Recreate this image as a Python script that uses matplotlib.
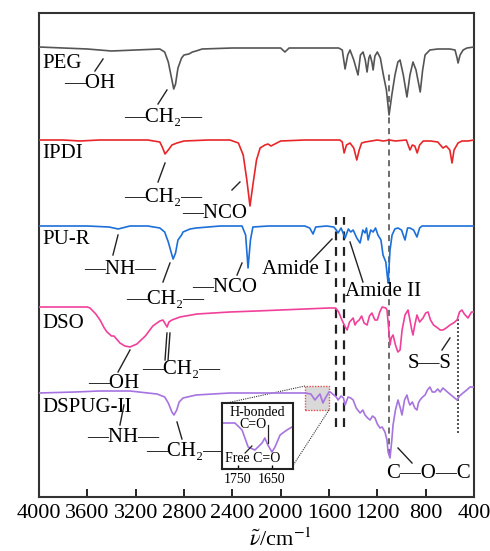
import numpy as np
import matplotlib
matplotlib.use("Agg")
import matplotlib.pyplot as plt
from matplotlib.patches import Rectangle

plt.rcParams['font.family'] = ['Liberation Serif', 'DejaVu Serif']
plt.rcParams['mathtext.fontset'] = 'stix'

# FTIR spectra: wavenumber (cm-1) and transmittance (a.u., baseline ~100)
peg_wn = [4000, 3800, 3600, 3400, 3200, 3000, 2960, 2930, 2900, 2885, 2870, 2850, 2820, 2800, 2760,
          2730, 2700, 2650, 2400, 2200, 2000, 1965, 1930, 1700, 1520, 1490, 1467, 1445, 1426, 1395,
          1360, 1340, 1318, 1300, 1285, 1270, 1260, 1245, 1235, 1220, 1200, 1175, 1150, 1125, 1103,
          1080, 1054, 1030, 1012, 985, 955, 930, 905, 880, 845, 825, 805, 765, 700, 600, 557, 540,
          532, 515, 490, 458, 400]
peg_t = [101, 100, 99, 97, 98, 99, 96, 86, 68, 59, 64, 80, 90, 93, 94,
         96, 97, 99, 100, 100, 100, 96, 100, 100, 100, 98, 79, 93, 98, 88,
         73, 93, 96, 88, 76, 90, 93, 86, 78, 92, 96, 90, 73, 58, 33,
         53, 73, 86, 88, 73, 51, 73, 86, 78, 56, 78, 93, 98, 99, 99, 98, 90,
         85, 93, 98, 100, 101]

ipdi_wn = [4000, 3800, 3660, 3500, 3100, 3000, 2980, 2957, 2930, 2900, 2858, 2800, 2600, 2420, 2350,
           2310, 2280, 2254, 2230, 2200, 2170, 2130, 2105, 2080, 2000, 1800, 1510, 1490, 1475, 1455,
           1426, 1395, 1370, 1350, 1330, 1300, 1250, 1200, 1150, 1100, 1050, 960, 945, 930, 910,
           890, 870, 850, 820, 760, 700, 657, 630, 600, 582, 565, 532, 500, 450, 400]
ipdi_t = [100, 100, 99, 100, 100, 98, 93, 86, 90, 95, 97, 99, 100, 100, 97,
          85, 60, 34, 55, 80, 92, 95, 96, 94, 99, 100, 100, 98, 87, 95,
          97, 92, 80, 90, 97, 98, 99, 100, 99, 100, 99, 100, 95, 90, 95,
          94, 87, 95, 99, 99, 98, 92, 94, 90, 77, 90, 97, 99, 99, 100]

pur_wn = [4000, 3600, 3420, 3345, 3280, 3247, 3100, 3000, 2960, 2930, 2900, 2890, 2870, 2850, 2820,
          2808, 2750, 2700, 2500, 2320, 2290, 2270, 2250, 2230, 2100, 1800, 1760, 1732, 1710, 1620,
          1560, 1540, 1525, 1500, 1467, 1440, 1420, 1400, 1370, 1343, 1320, 1302, 1290, 1276, 1255,
          1235, 1215, 1195, 1170, 1153, 1130, 1111, 1095, 1078, 1055, 1029, 1000, 971, 950, 930,
          900, 872, 850, 830, 600, 400]
pur_t = [100, 100, 99, 97, 99, 100, 100, 98, 94, 84, 71, 67, 73, 86, 91,
         94, 97, 98, 100, 100, 91, 58, 86, 99, 100, 100, 98, 92, 99, 100,
         99, 96, 93, 98, 88, 97, 94, 96, 88, 83, 96, 93, 98, 86, 96,
         94, 98, 91, 86, 71, 64, 43, 76, 91, 97, 98, 96, 86, 98, 98,
         96, 89, 98, 100, 100, 100]

dso_wn = [4000, 3800, 3600, 3578, 3530, 3495, 3460, 3437, 3400, 3380, 3330, 3290, 3247, 3190, 3120,
          3058, 3000, 2974, 2950, 2940, 2925, 2900, 2833, 2693, 2420, 2200, 2000, 1800, 1600, 1545,
          1520, 1500, 1470, 1450, 1430, 1400, 1385, 1370, 1350, 1330, 1310, 1285, 1265, 1245, 1220,
          1200, 1180, 1160, 1130, 1120, 1105, 1095, 1085, 1070, 1050, 1030, 1012, 995, 971, 946,
          930, 915, 905, 890, 872, 850, 822, 800, 780, 760, 735, 700, 680, 657, 630,
          599, 570, 540, 520, 500, 480, 450, 420, 400]
dso_t = [100, 100, 100, 99, 93, 87, 79, 75, 71, 71, 64, 61, 60, 63, 71,
         81, 86, 87, 82, 80, 85, 87, 90, 93, 95, 96, 97, 98, 99, 99,
         95, 89, 81, 77, 85, 89, 82, 85, 87, 91, 84, 82, 91, 94, 87,
         87, 95, 100, 99, 97, 77, 62, 69, 72, 62, 55, 57, 77, 92, 97,
         87, 77, 72, 82, 92, 85, 89, 94, 95, 87, 82, 79, 77, 77, 79,
         82, 84, 87, 95, 97, 93, 89, 95, 95]

dspug_wn = [4000, 3700, 3500, 3247, 3100, 3023, 2960, 2930, 2900, 2883, 2860, 2840, 2808, 2700, 2420,
            2100, 1800, 1750, 1716, 1690, 1675, 1650, 1630, 1600, 1590, 1560, 1540, 1525, 1500, 1480,
            1467, 1442, 1420, 1400, 1375, 1343, 1320, 1302, 1280, 1260, 1240, 1219, 1200, 1178, 1160,
            1137, 1120, 1111, 1095, 1080, 1070, 1050, 1029, 1010, 996, 975, 955, 940, 930, 910,
            890, 872, 860, 847, 825, 805, 785, 765, 745, 723, 700, 680, 657, 620, 580,
            540, 520, 491, 460, 433, 400]
dspug_t = [100, 101, 102, 102, 100, 99, 96, 90, 81, 78, 83, 91, 95, 98, 100,
           100, 100, 99, 93, 97, 99, 90, 95, 101, 101, 98, 96, 93, 97, 95,
           88, 96, 95, 93, 85, 80, 83, 78, 75, 73, 77, 75, 69, 65, 66,
           61, 53, 41, 35, 53, 68, 83, 93, 85, 78, 93, 98, 91, 88, 91,
           85, 83, 90, 93, 96, 98, 103, 106, 101, 101, 104, 101, 105, 101, 97,
           93, 97, 100, 103, 106, 106]

# zoomed C=O region of DSPUG-II
inset_wn = [1797, 1759, 1738, 1720, 1700, 1679, 1671, 1662, 1650, 1641, 1626, 1606, 1591]
inset_t = [100, 100, 93, 76, 73, 80, 85, 78, 71, 76, 88, 93, 96]

names = ['PEG', 'IPDI', 'PU-R', 'DSO', 'DSPUG-II']
spectra = [(peg_wn, peg_t), (ipdi_wn, ipdi_t), (pur_wn, pur_t), (dso_wn, dso_t), (dspug_wn, dspug_t)]
offsets = [349, 257, 171, 90, 4]
colors = ['#555555', '#e8262a', '#1c6fd8', '#f0409a', '#a673e0']
label_y = [434, 343, 257, 173, 90]

fig = plt.figure(figsize=(4.9, 5.51), dpi=100)
ax = fig.add_axes([39 / 490, 54 / 551, 435 / 490, 484 / 551])

for (wn, t), off, c in zip(spectra, offsets, colors):
    ax.plot(wn, np.array(t) + off, color=c, lw=1.2, zorder=3)

for name, ly in zip(names, label_y):
    ax.text(3975, ly, name, fontsize=15, ha='left', va='center')

ax.set_xlim(4000, 400)
ax.set_ylim(0, 484)
ax.set_xticks(np.arange(4000, 399, -400))
ax.set_yticks([])
ax.tick_params(axis='x', direction='in', length=6, width=1.2, labelsize=16, pad=5)
for sp in ax.spines.values():
    sp.set_linewidth(1.5)
    sp.set_color('#333333')

# guide lines
ax.vlines([1540, 1475], 70, 280, colors='#222222', linestyles=(0, (4, 3)), lw=1.6, zorder=2)
ax.vlines(1103, 42, 425, colors='#444444', linestyles=(0, (4, 3)), lw=1.1, zorder=2)
ax.vlines(532, 64, 179, colors='#333333', linestyles=(0, (1.2, 1.2)), lw=1.2, zorder=2)

fs = 15
lc = dict(color='#222222', lw=1.0)

def note(x, y, s, size=fs):
    ax.text(x, y, s, fontsize=size, ha='center', va='center', zorder=5)

def tick_line(x0, y0, x1, y1):
    ax.plot([x0, x1], [y0, y1], **lc, zorder=4)

# PEG
note(3578, 414, '—OH')
tick_line(3537, 426, 3470, 438)
note(2974, 379, '—CH\u2082—')
tick_line(3015, 393, 2941, 407)
# IPDI
tick_line(3015, 315, 2957, 334)
note(2974, 299, '—CH\u2082—')
note(2543, 284, '—NCO')
tick_line(2403, 307, 2337, 315)
# PU-R
tick_line(3388, 242, 3346, 262)
note(3330, 228, '—NH—')
tick_line(2974, 215, 2916, 234)
note(2960, 198, '—CH\u2082—')
note(2462, 210, '—NCO')
tick_line(2361, 222, 2320, 234)
note(1865, 227, 'Amide I')
tick_line(1757, 235, 1575, 258)
note(1153, 205, 'Amide II')
tick_line(1426, 255, 1319, 215)
# DSO
note(3379, 114, '—OH')
tick_line(3346, 125, 3247, 147)
tick_line(2957, 137, 2941, 164)
tick_line(2932, 137, 2916, 164)
note(2825, 127, '—CH\u2082—')
note(764, 134, 'S—S')
tick_line(665, 147, 599, 159)
# DSPUG-II
tick_line(3330, 72, 3297, 92)
note(3305, 59, '—NH—')
tick_line(2858, 75, 2817, 58)
note(2792, 45, '—CH\u2082—')
note(781, 24, 'C—O—C')
tick_line(1029, 49, 913, 34)

# zoom box and connectors
ax.add_patch(Rectangle((1799, 87), -199, 24, facecolor='#d9d9d9', edgecolor='#e85050',
                       lw=1.0, linestyle=(0, (1, 1)), zorder=2))
ax.plot([1799, 2486], [111, 93], color='#333333', lw=0.8, ls=(0, (1, 1)), zorder=2)
ax.plot([1600, 1906], [87, 30], color='#333333', lw=0.8, ls=(0, (1, 1)), zorder=2)

ins = fig.add_axes([222 / 490, 82 / 551, 71 / 490, 66 / 551])
ins.plot(inset_wn, inset_t, color='#a673e0', lw=1.2)
ins.set_xlim(1797, 1588)
ins.set_ylim(54, 120)
ins.set_xticks([1750, 1650])
ins.set_yticks([])
ins.tick_params(axis='x', direction='in', length=3, width=1, labelsize=10, pad=3)
for sp in ins.spines.values():
    sp.set_linewidth(1.5)
    sp.set_color('#222222')
ins.text(1694, 111, 'H-bonded', fontsize=10, ha='center', va='center')
ins.text(1706, 98, 'C=O', fontsize=10, ha='center', va='center')
ins.plot([1662, 1662], [98, 80], color='#222222', lw=0.9)
ins.text(1706, 64, 'Free C=O', fontsize=10, ha='center', va='center')
ins.plot([1729, 1709], [70, 77], color='#222222', lw=0.9)

fig.text(280 / 490, 11 / 551, r'$\tilde{\nu}$/cm$^{-1}$', fontsize=16, ha='center', va='center')

fig.savefig('out.png', dpi=100)
